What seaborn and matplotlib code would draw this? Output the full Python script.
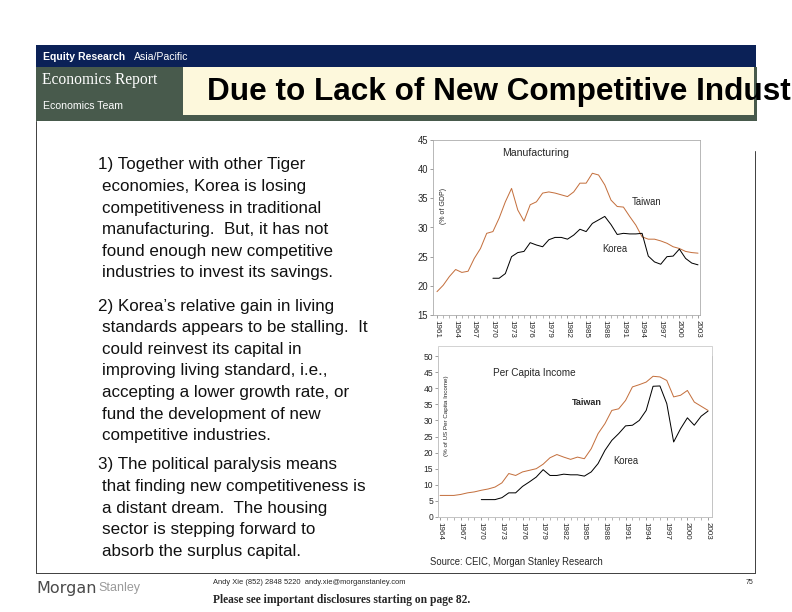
import matplotlib
matplotlib.use("Agg")
import matplotlib.pyplot as plt
import seaborn as sns
import pandas as pd
from matplotlib.patches import Rectangle

# Manufacturing share of GDP (%)
mfg_years_tw = list(range(1961, 2004))
mfg_taiwan = [19.0, 20.1, 21.6, 22.8, 22.3, 22.5, 24.7, 26.4, 29.0, 29.3,
              31.6, 34.4, 36.7, 33.0, 31.1, 33.9, 34.4, 35.9, 36.1, 35.9,
              35.6, 35.3, 36.1, 37.6, 37.6, 39.3, 39.0, 37.3, 34.7, 33.6,
              33.5, 31.9, 30.4, 28.4, 28.0, 28.0, 27.7, 27.3, 26.7, 26.4,
              25.9, 25.7, 25.6]
mfg_years_kr = list(range(1970, 2004))
mfg_korea = [21.3, 21.3, 22.1, 25.0, 25.7, 25.9, 27.4, 27.0, 26.7, 27.9,
             28.3, 28.3, 28.0, 28.7, 29.7, 29.3, 30.7, 31.3, 31.9, 30.5,
             28.8, 29.0, 28.9, 28.9, 29.0, 25.1, 24.1, 23.7, 25.0, 25.1,
             26.3, 24.7, 23.9, 23.6]

# Per capita income (% of US)
inc_years_tw = list(range(1964, 2004))
inc_taiwan = [6.7, 6.7, 6.7, 7.0, 7.5, 7.8, 8.3, 8.7, 9.3, 10.6,
              13.5, 12.9, 14.0, 14.5, 15.0, 16.4, 18.4, 19.4, 18.6, 17.9,
              18.6, 18.1, 21.2, 25.9, 29.0, 33.1, 33.6, 36.2, 40.4, 41.1,
              41.9, 43.7, 43.5, 42.4, 37.3, 37.8, 39.3, 35.7, 34.4, 33.1]
inc_years_kr = list(range(1970, 2004))
inc_korea = [5.4, 5.4, 5.4, 6.0, 7.5, 7.5, 9.5, 10.9, 12.4, 14.7,
             12.9, 12.9, 13.3, 13.1, 13.1, 12.7, 14.0, 16.6, 20.7, 23.8,
             25.9, 28.3, 28.5, 30.0, 33.1, 40.6, 40.7, 35.2, 23.3, 27.4,
             30.8, 28.5, 31.3, 32.9]

mfg_ticks = list(range(1961, 2004, 3))
inc_ticks = list(range(1964, 2004, 3))

paragraphs = [
    ["1) Together with other Tiger", "economies, Korea is losing",
     "competitiveness in traditional", "manufacturing.  But, it has not",
     "found enough new competitive", "industries to invest its savings."],
    ["2) Korea\u2019s relative gain in living", "standards appears to be stalling.  It",
     "could reinvest its capital in", "improving living standard, i.e.,",
     "accepting a lower growth rate, or", "fund the development of new",
     "competitive industries."],
    ["3) The political paralysis means", "that finding new competitiveness is",
     "a distant dream.  The housing", "sector is stepping forward to",
     "absorb the surplus capital."],
]

sns.set_style("white")
plt.rcParams['font.family'] = ['Liberation Sans', 'DejaVu Sans']

W, H = 792, 612
TW_COLOR = "#c4703e"
NAVY = "#0b2157"
GREEN = "#485a4c"
CREAM = "#fdf8dc"

fig = plt.figure(figsize=(W / 72, H / 72), dpi=72)
fig.patch.set_facecolor("white")


def box(x, y, w, h):
    return [x / W, 1 - (y + h) / H, w / W, h / H]


def put(x, y, s, **kw):
    fig.text(x / W, 1 - y / H, s, **kw)


def rect(x, y, w, h, **kw):
    fig.patches.append(Rectangle((x / W, 1 - (y + h) / H), w / W, h / H,
                                 transform=fig.transFigure, figure=fig, **kw))


# header
rect(36, 45, 720, 22, facecolor=NAVY, edgecolor="none")
rect(36, 67, 147, 54, facecolor=GREEN, edgecolor="none")
rect(183, 67, 574, 54, facecolor=GREEN, edgecolor="none")
rect(183, 67, 571, 48, facecolor=CREAM, edgecolor="none")
put(43, 57, "Equity Research", color="white", fontsize=10.5, fontweight="bold", va="center")
put(134, 57, "Asia/Pacific", color="white", fontsize=10.5, va="center")
put(42, 80, "Economics Report", color="white", fontsize=15.5, va="center",
    family="Liberation Serif")
put(43, 106, "Economics Team", color="white", fontsize=10.5, va="center")
put(207, 100, "Due to Lack of New Competitive Indust", fontsize=31.5,
    fontweight="bold", va="baseline", color="black")

# page frame
fig.add_artist(plt.Line2D([36 / W, 36 / W], [1 - 121 / H, 1 - 573 / H], color="#444", lw=1))
fig.add_artist(plt.Line2D([36 / W, 755 / W], [1 - 573 / H, 1 - 573 / H], color="#444", lw=1))
fig.add_artist(plt.Line2D([755 / W, 755 / W], [1 - 151 / H, 1 - 573 / H], color="#444", lw=1))

# body text
starts = [165, 306, 465]
for para, y0 in zip(paragraphs, starts):
    for i, line in enumerate(para):
        x = 98 if i == 0 else 102
        put(x, y0 + i * 21.6, line, fontsize=17, va="center", color="#111")

# footer
put(36, 588, "Morgan", fontsize=16, color="#4a4a4a", va="center", family="DejaVu Sans")
put(98, 588, "Stanley", fontsize=12.5, color="#9a9a9a", va="center")
put(213, 583, "Andy Xie (852) 2848 5220  andy.xie@morganstanley.com", fontsize=7.5, va="center")
put(213, 600, "Please see important disclosures starting on page 82.", fontsize=11.5,
    fontweight="bold", va="center", family="Liberation Serif")
put(753, 583, "75", fontsize=7, va="center", ha="right")


def style_axes(ax, ticks, first, ysize):
    for s in ax.spines.values():
        s.set_color("#a8a8a8")
        s.set_linewidth(0.8)
    ax.set_xticks(ticks)
    ax.set_xticks(range(first, 2004), minor=True)
    ax.set_xticklabels([str(t) for t in ticks], rotation=-90)
    ax.tick_params(axis="both", which="both", direction="out", length=3,
                   color="#888", pad=2, bottom=True, left=True)
    ax.tick_params(axis="x", labelsize=8)
    ax.tick_params(axis="y", labelsize=ysize)
    ax.set_xlabel("")
    ax.set_ylabel("")


# top chart: manufacturing
ax1 = fig.add_axes(box(433, 140, 267, 175))
df_tw = pd.DataFrame({"year": mfg_years_tw, "value": mfg_taiwan})
df_kr = pd.DataFrame({"year": mfg_years_kr, "value": mfg_korea})
sns.lineplot(data=df_tw, x="year", y="value", ax=ax1, color=TW_COLOR, lw=1)
sns.lineplot(data=df_kr, x="year", y="value", ax=ax1, color="black", lw=1)
style_axes(ax1, mfg_ticks, 1961, 9.5)
ax1.set_yticks(range(15, 46, 5))
ax1.set_xlim(1960.36, 2003.32)
ax1.set_ylim(15, 45)
ax1.text(1971.5, 42.8, "Manufacturing", fontsize=10.5, va="center")
ax1.text(1992.4, 34.4, "Taiwan", fontsize=9.5, va="center")
ax1.text(1987.6, 26.3, "Korea", fontsize=9.5, va="center")
ax1.text(1962.0, 33.7, "(% of GDP)", fontsize=7, rotation=90, va="center", ha="center")

# bottom chart: per capita income
ax2 = fig.add_axes(box(438, 356, 274, 161))
di_tw = pd.DataFrame({"year": inc_years_tw, "value": inc_taiwan})
di_kr = pd.DataFrame({"year": inc_years_kr, "value": inc_korea})
sns.lineplot(data=di_tw, x="year", y="value", ax=ax2, color=TW_COLOR, lw=1)
sns.lineplot(data=di_kr, x="year", y="value", ax=ax2, color="black", lw=1)
style_axes(ax2, inc_ticks, 1964, 8.5)
ax2.set_yticks(range(0, 51, 5))
ax2.set_xlim(1963.7, 2003.58)
ax2.set_ylim(0, 50)
ax2.spines["top"].set_visible(False)
rect(438, 346, 274, 171, facecolor="none", edgecolor="#c8c8c8", lw=0.8)
ax2.text(1971.7, 44.7, "Per Capita Income", fontsize=10, va="center")
ax2.text(1983.2, 35.7, "Taiwan", fontsize=9, fontweight="bold", va="center")
ax2.text(1989.2, 17.4, "Korea", fontsize=9.5, va="center")
ax2.text(1965.0, 31.4, "(% of US Per Capita Income)", fontsize=6.3, rotation=90,
         va="center", ha="center")

put(430, 562, "Source: CEIC, Morgan Stanley Research", fontsize=9.5, va="center")

fig.savefig("out.png", dpi=72, facecolor="white")
